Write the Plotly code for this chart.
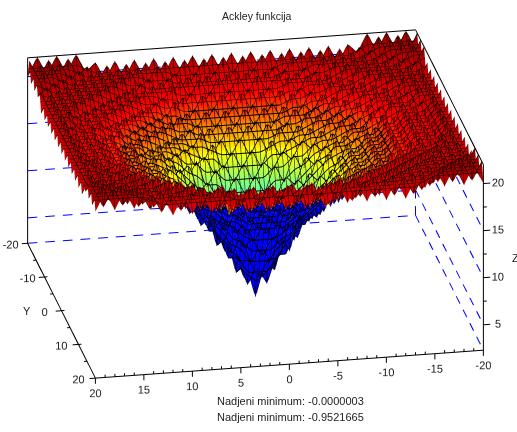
import plotly.graph_objects as go

x_vals = list(range(-20, 21))
y_vals = list(range(-20, 21))
z_rows = [
[20,22,20,22,20,22,20,21,19,21,19,21,19,21,19,21,19,21,19,21,19,21,19,21,19,21,19,21,19,21,19,21,19,21,20,22,20,22,20,22,20],
[22,20,22,20,22,20,21,19,21,19,21,19,21,19,21,19,21,19,21,19,21,19,21,19,21,19,21,19,21,19,21,19,21,19,21,20,22,20,22,20,22],
[20,22,20,22,20,21,19,21,19,21,19,21,19,21,19,20,18,20,18,20,18,20,18,20,18,20,19,21,19,21,19,21,19,21,19,21,20,22,20,22,20],
[22,20,22,20,21,19,21,19,21,19,21,19,20,18,20,18,20,18,20,18,20,18,20,18,20,18,20,18,20,19,21,19,21,19,21,19,21,20,22,20,22],
[20,22,20,21,19,21,19,21,19,21,18,20,18,20,18,20,18,20,18,20,18,20,18,20,18,20,18,20,18,20,18,21,19,21,19,21,19,21,20,22,20],
[22,20,21,19,21,19,21,19,21,18,20,18,20,18,20,17,19,17,19,17,19,17,19,17,19,17,20,18,20,18,20,18,21,19,21,19,21,19,21,20,22],
[20,21,19,21,19,21,19,21,18,20,18,20,18,19,17,19,17,19,17,19,17,19,17,19,17,19,17,19,18,20,18,20,18,21,19,21,19,21,19,21,20],
[21,19,21,19,21,19,21,18,20,18,20,17,19,17,19,16,18,16,18,16,18,16,18,16,18,16,19,17,19,17,20,18,20,18,21,19,21,19,21,19,21],
[19,21,19,21,19,21,18,20,18,20,17,19,17,18,16,18,16,18,16,18,16,18,16,18,16,18,16,18,17,19,17,20,18,20,18,21,19,21,19,21,19],
[21,19,21,19,21,18,20,18,20,17,19,17,18,16,18,16,17,15,17,15,17,15,17,15,17,16,18,16,18,17,19,17,20,18,20,18,21,19,21,19,21],
[19,21,19,21,18,20,18,20,17,19,17,18,16,18,15,17,15,17,15,17,15,17,15,17,15,17,15,18,16,18,17,19,17,20,18,20,18,21,19,21,19],
[21,19,21,19,20,18,20,17,19,17,18,16,18,15,17,15,17,14,16,14,16,14,16,14,17,15,17,15,18,16,18,17,19,17,20,18,20,19,21,19,21],
[19,21,19,20,18,20,18,19,17,18,16,18,15,17,15,16,14,16,13,15,13,15,13,16,14,16,15,17,15,18,16,18,17,19,18,20,18,20,19,21,19],
[21,19,21,18,20,18,19,17,18,16,18,15,17,15,16,14,15,13,14,12,14,12,14,13,15,14,16,15,17,15,18,16,18,17,19,18,20,18,21,19,21],
[19,21,19,20,18,20,17,19,16,18,15,17,15,16,13,15,12,14,11,13,11,13,11,14,12,15,13,16,15,17,15,18,16,19,17,20,18,20,19,21,19],
[21,19,20,18,20,17,19,16,18,16,17,15,16,14,15,12,13,11,12,10,12,10,12,11,13,12,15,14,16,15,17,16,18,16,19,17,20,18,20,19,21],
[19,21,18,20,18,19,17,18,16,17,15,17,14,15,12,13,11,12,9,10,8,10,9,12,11,13,12,15,14,17,15,17,16,18,17,19,18,20,18,21,19],
[21,19,20,18,20,17,19,16,18,15,17,14,16,13,14,11,12,8,10,7,9,7,10,8,12,11,14,13,16,14,17,15,18,16,19,17,20,18,20,19,21],
[19,21,18,20,18,19,17,18,16,17,15,16,13,14,11,12,9,10,7,7,5,7,7,10,9,12,11,14,13,16,15,17,16,18,17,19,18,20,18,21,19],
[21,19,20,18,20,17,19,16,18,15,17,14,15,12,13,10,10,7,7,4,6,4,7,7,10,10,13,12,15,14,17,15,18,16,19,17,20,18,20,19,21],
[19,21,18,20,18,19,17,18,16,17,15,16,13,14,11,12,8,9,5,6,2.3,6,5,9,8,12,11,14,13,16,15,17,16,18,17,19,18,20,18,21,19],
[21,19,20,18,20,17,19,16,18,15,17,14,15,12,13,10,10,7,7,4,6,4,7,7,10,10,13,12,15,14,17,15,18,16,19,17,20,18,20,19,21],
[19,21,18,20,18,19,17,18,16,17,15,16,13,14,11,12,9,10,7,7,5,7,7,10,9,12,11,14,13,16,15,17,16,18,17,19,18,20,18,21,19],
[21,19,20,18,20,17,19,16,18,15,17,14,16,13,14,11,12,8,10,7,9,7,10,8,12,11,14,13,16,14,17,15,18,16,19,17,20,18,20,19,21],
[19,21,18,20,18,19,17,18,16,17,15,17,14,15,12,13,11,12,9,10,8,10,9,12,11,13,12,15,14,17,15,17,16,18,17,19,18,20,18,21,19],
[21,19,20,18,20,17,19,16,18,16,17,15,16,14,15,12,13,11,12,10,12,10,12,11,13,12,15,14,16,15,17,16,18,16,19,17,20,18,20,19,21],
[19,21,19,20,18,20,17,19,16,18,15,17,15,16,13,15,12,14,11,13,11,13,11,14,12,15,13,16,15,17,15,18,16,19,17,20,18,20,19,21,19],
[21,19,21,18,20,18,19,17,18,16,18,15,17,15,16,14,15,13,14,12,14,12,14,13,15,14,16,15,17,15,18,16,18,17,19,18,20,18,21,19,21],
[19,21,19,20,18,20,18,19,17,18,16,18,15,17,15,16,14,16,13,15,13,15,13,16,14,16,15,17,15,18,16,18,17,19,18,20,18,20,19,21,19],
[21,19,21,19,20,18,20,17,19,17,18,16,18,15,17,15,17,14,16,14,16,14,16,14,17,15,17,15,18,16,18,17,19,17,20,18,20,19,21,19,21],
[19,21,19,21,18,20,18,20,17,19,17,18,16,18,15,17,15,17,15,17,15,17,15,17,15,17,15,18,16,18,17,19,17,20,18,20,18,21,19,21,19],
[21,19,21,19,21,18,20,18,20,17,19,17,18,16,18,16,17,15,17,15,17,15,17,15,17,16,18,16,18,17,19,17,20,18,20,18,21,19,21,19,21],
[19,21,19,21,19,21,18,20,18,20,17,19,17,18,16,18,16,18,16,18,16,18,16,18,16,18,16,18,17,19,17,20,18,20,18,21,19,21,19,21,19],
[21,19,21,19,21,19,21,18,20,18,20,17,19,17,19,16,18,16,18,16,18,16,18,16,18,16,19,17,19,17,20,18,20,18,21,19,21,19,21,19,21],
[20,21,19,21,19,21,19,21,18,20,18,20,18,19,17,19,17,19,17,19,17,19,17,19,17,19,17,19,18,20,18,20,18,21,19,21,19,21,19,21,20],
[22,20,21,19,21,19,21,19,21,18,20,18,20,18,20,17,19,17,19,17,19,17,19,17,19,17,20,18,20,18,20,18,21,19,21,19,21,19,21,20,22],
[20,22,20,21,19,21,19,21,19,21,18,20,18,20,18,20,18,20,18,20,18,20,18,20,18,20,18,20,18,20,18,21,19,21,19,21,19,21,20,22,20],
[22,20,22,20,21,19,21,19,21,19,21,19,20,18,20,18,20,18,20,18,20,18,20,18,20,18,20,18,20,19,21,19,21,19,21,19,21,20,22,20,22],
[20,22,20,22,20,21,19,21,19,21,19,21,19,21,19,20,18,20,18,20,18,20,18,20,18,20,19,21,19,21,19,21,19,21,19,21,20,22,20,22,20],
[22,20,22,20,22,20,21,19,21,19,21,19,21,19,21,19,21,19,21,19,21,19,21,19,21,19,21,19,21,19,21,19,21,19,21,20,22,20,22,20,22],
[20,22,20,22,20,22,20,21,19,21,19,21,19,21,19,21,19,21,19,21,19,21,19,21,19,21,19,21,19,21,19,21,19,21,20,22,20,22,20,22,20],
]
x_ticks = [20, 15, 10, 5, 0, -5, -10, -15, -20]
y_ticks = [-20, -10, 0, 10, 20]
z_ticks = [5, 10, 15, 20]
x_minor = [v for v in range(-20, 21) if v % 5]
y_minor = [-15, -5, 5, 15]
z_minor = [7.5, 12.5, 17.5]
z_lo, z_hi = 2.3, 22.0
x_hi, x_lo, y_hi, y_lo = 20, -20, 20, -20
JET = [[0, "#00007f"], [0.11, "#0000ff"], [0.36, "#00ffff"], [0.63, "#ffff00"], [0.82, "#ff0000"], [1, "#8b0000"]]
LIGHT = dict(ambient=1, diffuse=0, specular=0, roughness=1, fresnel=0)
mesh = dict(show=True, color="black", width=1, start=-20, end=20, size=0.5)
CONT = dict(x=mesh, y=mesh, z=dict(show=False))

fig = go.Figure()
fig.add_surface(x=x_vals, y=y_vals, z=z_rows, cmin=z_lo, cmax=z_hi, colorscale=JET,
                showscale=False, lighting=LIGHT, contours=CONT, hoverinfo="skip")
# Blue underside only inside the pit: a sheet just below the coloured surface
under = [[(v - 0.05) if xv * xv + yv * yv <= 225 else None for xv, v in zip(x_vals, row)]
         for yv, row in zip(y_vals, z_rows)]
fig.add_surface(x=x_vals, y=y_vals, z=under, cmin=0, cmax=1, surfacecolor=[[0] * 41] * 41,
                colorscale=[[0, "#0000ff"], [1, "#0000ff"]], showscale=False,
                lighting=LIGHT, contours=CONT, hoverinfo="skip")

def segs(pairs, color, width=2):
    xs, ys, zs = [], [], []
    for a, b in pairs:
        xs += [a[0], b[0], None]; ys += [a[1], b[1], None]; zs += [a[2], b[2], None]
    fig.add_scatter3d(x=xs, y=ys, z=zs, mode="lines", hoverinfo="skip", showlegend=False,
                      line=dict(color=color, width=width))

def dashed(a, b, n):
    out = []
    for k in range(n):
        s, e = k / n, (k + 0.55) / n
        out.append((tuple(a[i] + (b[i] - a[i]) * s for i in range(3)),
                    tuple(a[i] + (b[i] - a[i]) * e for i in range(3))))
    return out

def labels(xs, ys, zs, texts):
    fig.add_scatter3d(x=xs, y=ys, z=zs, mode="text", text=texts, textposition="middle center",
                      hoverinfo="skip", showlegend=False,
                      textfont=dict(family="Liberation Sans", size=11, color="#222222"))

segs([((x_hi, y_lo, z_lo), (x_hi, y_lo, z_hi)), ((x_hi, y_lo, z_hi), (x_lo, y_lo, z_hi)),
      ((x_lo, y_lo, z_hi), (x_lo, y_hi, z_hi)), ((x_lo, y_hi, z_lo), (x_lo, y_hi, z_hi)),
      ((x_hi, y_hi, z_lo), (x_lo, y_hi, z_lo)), ((x_hi, y_hi, z_lo), (x_hi, y_lo, z_lo))], "black")
blue = dashed((x_hi, y_lo, z_lo), (x_lo, y_lo, z_lo), 22) + dashed((x_lo, y_lo, z_lo), (x_lo, y_hi, z_lo), 10) \
    + dashed((x_lo, y_lo, z_lo), (x_lo, y_lo, z_hi), 11)
for t in z_ticks:
    blue += dashed((x_hi, y_lo, t), (x_lo, y_lo, t), 22) + dashed((x_lo, y_lo, t), (x_lo, y_hi, t), 10)
segs(blue, "#0000ff")
segs([((t, y_hi, z_lo), (t, y_hi, z_lo - 0.6)) for t in x_ticks] +
     [((t, y_hi, z_lo), (t, y_hi, z_lo + 0.3)) for t in x_minor] +
     [((x_hi + 0.6, t, z_lo), (x_hi - 0.3, t, z_lo)) for t in y_ticks] +
     [((x_hi + 0.3, t, z_lo), (x_hi, t, z_lo)) for t in y_minor] +
     [((x_lo, y_hi, t), (x_lo - 0.7, y_hi, t)) for t in z_ticks] +
     [((x_lo, y_hi, t), (x_lo - 0.35, y_hi, t)) for t in z_minor], "black")
labels(x_ticks, [y_hi] * len(x_ticks), [z_lo - 1.6] * len(x_ticks), [str(t) for t in x_ticks])
labels([x_hi + 1.75] * len(y_ticks), y_ticks, [z_lo] * len(y_ticks), [str(t) for t in y_ticks])
labels([x_lo - 1.5] * len(z_ticks), [y_hi] * len(z_ticks), z_ticks, [str(t) for t in z_ticks])

hidden = dict(visible=False, showgrid=False, zeroline=False, showticklabels=False, showspikes=False,
              showbackground=False)
D = 4.0
fig.update_layout(
    width=517, height=432, margin=dict(l=0, r=0, t=0, b=0), paper_bgcolor="white", showlegend=False,
    scene=dict(
        domain=dict(x=[0, 0.988], y=[0.056, 1]),
        xaxis=dict(range=[-25, 25], **hidden),
        yaxis=dict(range=[-25, 25], **hidden),
        zaxis=dict(range=[-1.85, 26.15], **hidden),
        aspectmode="manual", aspectratio=dict(x=2.42, y=2.224, z=1.396),
        camera=dict(projection=dict(type="orthographic"), up=dict(x=0, y=0, z=1),
                    center=dict(x=0, y=0, z=0), eye=dict(x=0.173 * D, y=0.909 * D, z=0.378 * D)),
    ),
    annotations=[
        dict(text="Ackley funkcija", x=256.5, y=16, showarrow=False, font=dict(size=10.5)),
        dict(text="Y", x=27, y=311, showarrow=False, font=dict(size=11)),
        dict(text="Z", x=515, y=258, showarrow=False, font=dict(size=11)),
        dict(text="Nadjeni minimum: -0.0000003", x=290, y=401, showarrow=False, font=dict(size=11)),
        dict(text="Nadjeni minimum: -0.9521665", x=290, y=417, showarrow=False, font=dict(size=11)),
    ],
)
for a in fig.layout.annotations:
    a.update(xref="paper", yref="paper", x=a.x / 517, y=1 - a.y / 432, xanchor="center", yanchor="middle",
             font=dict(family="Liberation Sans", size=a.font.size, color="#222222"))
fig.write_html("out.html", post_script="document.body.style.margin='0';", config=dict(displayModeBar=False))
